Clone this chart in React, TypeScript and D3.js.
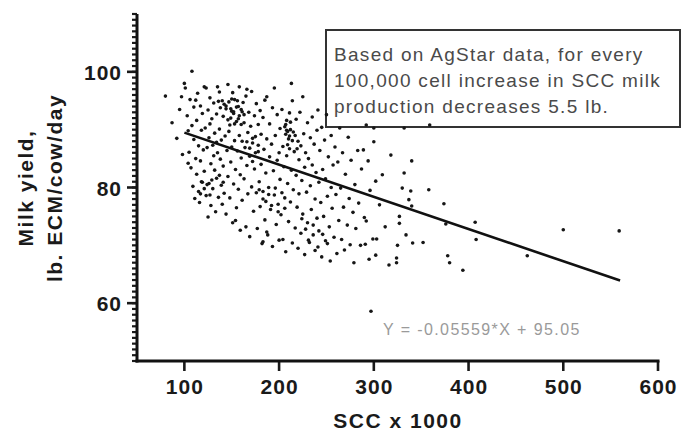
import React, { useRef, useEffect } from 'react';
import { select, scaleLinear, axisLeft, axisBottom, range, line } from 'd3';

// [SCC x 1000, milk yield lb ECM/cow/day]
const sccUnder120 = [
  [80, 95.8], [87, 91.2], [92, 88.5], [95, 93.5], [97, 95.7], [98, 85.7],
  [100, 98.0], [101, 97.2], [103, 92.4], [104, 89.8], [105, 86.1], [106, 95.2],
  [107, 83.4], [108, 100.1], [108, 90.7], [109, 80.2], [110, 88.3], [110, 93.9],
  [111, 78.1], [112, 85.0], [113, 91.6], [113, 82.3], [114, 96.3], [115, 87.2],
  [116, 77.4], [117, 94.1], [117, 84.6], [118, 89.9], [119, 80.9], [119, 92.8],
  [120, 86.5], [104, 84.2], [112, 95.1], [115, 79.3]
];

const scc120to160 = [
  [121, 97.4], [121, 82.8], [122, 90.3], [123, 97.2], [123, 78.6], [124, 86.9],
  [125, 93.4], [126, 80.7], [126, 88.6], [127, 95.5], [128, 84.1], [128, 76.9],
  [129, 91.9], [130, 79.8], [130, 87.3], [131, 94.6], [132, 83.0], [132, 89.4],
  [133, 75.8], [134, 92.7], [134, 81.6], [135, 97.4], [135, 86.0], [136, 78.3],
  [137, 96.5], [137, 90.1], [138, 84.9], [138, 93.8], [139, 80.4], [139, 88.2],
  [140, 95.0], [140, 77.1], [125, 74.9], [131, 85.5], [127, 91.0],
  [141, 92.3], [141, 83.7], [142, 94.4], [142, 79.0], [143, 88.9], [144, 93.6],
  [144, 75.4], [145, 86.4], [146, 97.8], [146, 81.9], [147, 94.8], [147, 89.7],
  [148, 78.2], [149, 92.0], [149, 84.4], [150, 95.3], [150, 87.0], [151, 73.9],
  [152, 93.1], [152, 80.6], [153, 95.2], [153, 88.1], [154, 83.1], [155, 91.4],
  [155, 76.5], [156, 95.0], [156, 86.3], [157, 94.0], [157, 79.7], [158, 97.4],
  [158, 89.0], [159, 82.2], [159, 72.6], [160, 93.5], [160, 85.1], [148, 90.8],
  [151, 96.4], [154, 74.3], [144, 94.1], [150, 93.2], [136, 94.9]
];

const scc160to200 = [
  [161, 88.0], [161, 77.8], [162, 94.7], [163, 81.5], [163, 91.2], [164, 86.9],
  [165, 73.2], [165, 95.8], [166, 83.8], [167, 89.5], [167, 78.9], [168, 93.0],
  [169, 85.4], [169, 71.5], [170, 90.6], [171, 80.1], [171, 96.6], [172, 87.7],
  [173, 75.9], [174, 92.4], [174, 83.2], [175, 88.8], [176, 79.1], [176, 94.5],
  [177, 72.9], [178, 86.2], [178, 90.9], [179, 81.0], [180, 76.7], [180, 93.3],
  [166, 97.0], [172, 84.5],
  [181, 89.2], [181, 84.0], [182, 70.3], [183, 92.1], [183, 78.0], [184, 86.6],
  [185, 95.1], [185, 74.4], [186, 82.5], [187, 95.7], [187, 88.4], [188, 71.8],
  [189, 80.0], [190, 91.0], [190, 85.3], [191, 76.2], [192, 87.5], [193, 69.8],
  [193, 93.8], [194, 82.9], [195, 97.2], [195, 78.7], [196, 89.0], [197, 73.6],
  [198, 84.7], [198, 92.6], [199, 77.1], [200, 86.0], [200, 70.9],
  [183, 70.6], [187, 72.3], [179, 79.6]
];

const scc200to240 = [
  [201, 90.2], [201, 81.4], [202, 75.3], [203, 93.5], [204, 87.1], [204, 71.0],
  [205, 83.6], [206, 90.5], [206, 78.2], [207, 89.2], [207, 68.9], [208, 91.6],
  [208, 85.5], [209, 80.7], [210, 88.4], [210, 74.1], [211, 92.9], [211, 86.7],
  [212, 90.0], [212, 77.5], [213, 98.0], [213, 83.0], [214, 70.4], [215, 89.6],
  [215, 79.6], [216, 86.2], [217, 73.0], [218, 91.8], [218, 82.1], [219, 76.6],
  [220, 88.0], [220, 69.5], [209, 87.4], [214, 95.0], [208, 89.9], [211, 88.9],
  [221, 84.8], [221, 78.9], [222, 93.0], [223, 72.1], [223, 87.2], [224, 81.2],
  [225, 95.7], [225, 75.4], [226, 89.3], [227, 83.5], [227, 68.4], [228, 86.0],
  [229, 79.2], [230, 91.2], [230, 73.9], [231, 85.0], [232, 70.5], [233, 88.6],
  [233, 80.3], [234, 76.2], [235, 92.2], [235, 83.9], [236, 71.8], [237, 87.5],
  [238, 78.0], [238, 69.1], [239, 82.6], [240, 89.9], [240, 74.7]
];

const scc240to300 = [
  [241, 93.4], [242, 80.9], [242, 72.5], [243, 86.4], [244, 77.4], [245, 90.4],
  [245, 68.0], [246, 83.1], [247, 75.0], [248, 88.2], [249, 70.8], [249, 81.5],
  [250, 92.6], [251, 78.5], [252, 85.3], [253, 73.2], [254, 67.3], [255, 89.0],
  [255, 80.0], [256, 76.4], [257, 83.9], [258, 71.4], [259, 87.0], [260, 78.8],
  [261, 68.6], [262, 84.4], [263, 74.3], [264, 90.3], [265, 79.9], [266, 71.0],
  [267, 86.0], [268, 76.6], [269, 69.2], [270, 82.3], [272, 73.5], [273, 88.7],
  [274, 78.1], [275, 70.1], [276, 84.7], [278, 75.7], [279, 67.0], [280, 80.5],
  [281, 72.9], [283, 86.4], [284, 77.3], [286, 70.0], [287, 83.2], [289, 86.5],
  [290, 74.8], [291, 70.2], [292, 90.8], [292, 74.2], [294, 84.6], [295, 67.6],
  [296, 79.5], [297, 58.6], [299, 71.1], [300, 90.3], [300, 87.9]
];

const sccOver300 = [
  [302, 81.1], [302, 68.3], [303, 71.1], [306, 77.0], [309, 82.2], [312, 73.2],
  [316, 66.6], [318, 85.6], [324, 67.8], [324, 67.0], [325, 70.0], [327, 75.0],
  [327, 73.8], [330, 79.9], [332, 90.3], [332, 82.5], [334, 71.8], [337, 77.9],
  [339, 79.4], [340, 84.6], [340, 76.8], [341, 70.4], [352, 70.5], [358, 79.6],
  [359, 90.8], [374, 77.2], [376, 73.7], [378, 68.2], [380, 67.0], [394, 65.7],
  [407, 74.0], [408, 71.0], [462, 68.2], [500, 72.7], [559, 72.5]
];

// the darker clumps inside the main cloud
const denseClumps = [
  [149, 93.6], [152, 92.8], [155, 93.9], [158, 92.4], [161, 93.1], [153, 91.0],
  [146, 91.7], [157, 91.9], [160, 90.9], [163, 92.6],
  [118, 81.0], [121, 79.8], [124, 80.5], [127, 78.7], [129, 81.3], [117, 78.9],
  [166, 87.9], [169, 86.8], [172, 88.5], [175, 86.0], [178, 87.3],
  [207, 90.9], [209, 89.7], [212, 91.3], [214, 88.1], [217, 89.0], [219, 86.7],
  [183, 79.3], [186, 77.6], [189, 78.8], [192, 76.9], [196, 79.9], [199, 75.8],
  [224, 74.6], [228, 72.8], [231, 70.9], [236, 73.5], [241, 69.7], [246, 71.9],
  [251, 70.3], [203, 79.1], [206, 76.4], [137, 82.1], [141, 80.9], [134, 87.8]
];

// fitted line Y = -0.05559*X + 95.05 over the SCC span of the fit
const fitSlope = -0.05559;
const fitIntercept = 95.05;
const fitSpan = [100, 560];

const xTicks = [100, 200, 300, 400, 500, 600];
const yTicks = [60, 80, 100];
const yMinorTicks = range(50, 111, 1);

const noteLines = [
  'Based on AgStar data, for every',
  '100,000 cell increase in SCC milk',
  'production decreases 5.5 lb.'
];
const equationLabel = 'Y = -0.05559*X + 95.05';

const FONT = 'Arial, "Liberation Sans", Helvetica, sans-serif';

const App = () => {
  const svgRef = useRef(null);

  useEffect(() => {
    const svg = select(svgRef.current);
    svg.selectAll('*').remove();

    const xScale = scaleLinear().domain([50, 600]).range([137, 658]);
    const yScale = scaleLinear().domain([50, 110]).range([361, 14]);
    const axisX = xScale(50);
    const axisY = yScale(50);

    const allPoints = [
      ...sccUnder120,
      ...scc120to160,
      ...scc160to200,
      ...scc200to240,
      ...scc240to300,
      ...sccOver300,
      ...denseClumps
    ];

    // note box (points sit on top of its lower edge)
    const note = svg.append('g');
    note
      .append('rect')
      .attr('x', 326)
      .attr('y', 30)
      .attr('width', 354)
      .attr('height', 97)
      .attr('fill', 'white')
      .attr('stroke', '#333')
      .attr('stroke-width', 2);
    note
      .selectAll('text')
      .data(noteLines)
      .join('text')
      .attr('x', 334)
      .attr('y', (d, i) => 61 + i * 26)
      .attr('font-family', FONT)
      .attr('font-size', 19)
      .attr('letter-spacing', 1.3)
      .attr('fill', '#4a4a4a')
      .text(d => d);

    svg
      .append('text')
      .attr('x', 383)
      .attr('y', 335)
      .attr('font-family', FONT)
      .attr('font-size', 16)
      .attr('letter-spacing', 1.4)
      .attr('fill', '#9a9a9a')
      .text(equationLabel);

    // scatter
    svg
      .append('g')
      .selectAll('circle')
      .data(allPoints)
      .join('circle')
      .attr('cx', d => xScale(d[0]))
      .attr('cy', d => yScale(d[1]))
      .attr('r', 1.8)
      .attr('fill', '#161616');

    // regression line
    const fit = fitSpan.map(x => [x, fitSlope * x + fitIntercept]);
    svg
      .append('path')
      .datum(fit)
      .attr('fill', 'none')
      .attr('stroke', '#111')
      .attr('stroke-width', 2.6)
      .attr(
        'd',
        line()
          .x(d => xScale(d[0]))
          .y(d => yScale(d[1]))
      );

    // tick marks drawn as plain lines
    const ticks = svg.append('g').attr('stroke', '#1a1a1a');
    ticks
      .selectAll('.y-minor')
      .data(yMinorTicks)
      .join('line')
      .attr('class', 'y-minor')
      .attr('x1', axisX - 5)
      .attr('x2', axisX)
      .attr('y1', d => yScale(d))
      .attr('y2', d => yScale(d))
      .attr('stroke-width', 2.2);
    ticks
      .selectAll('.y-major')
      .data(yTicks)
      .join('line')
      .attr('class', 'y-major')
      .attr('x1', axisX - 10)
      .attr('x2', axisX)
      .attr('y1', d => yScale(d))
      .attr('y2', d => yScale(d))
      .attr('stroke-width', 2.6);
    ticks
      .selectAll('.x-major')
      .data(xTicks)
      .join('line')
      .attr('class', 'x-major')
      .attr('x1', d => xScale(d))
      .attr('x2', d => xScale(d))
      .attr('y1', axisY)
      .attr('y2', axisY + 10)
      .attr('stroke-width', 2.6);

    // axis lines + labels
    const yAxisG = svg
      .append('g')
      .attr('transform', `translate(${axisX},0)`)
      .call(axisLeft(yScale).tickValues(yTicks).tickSize(0).tickPadding(15));
    yAxisG
      .select('.domain')
      .attr('stroke-width', 3)
      .attr('stroke', '#111')
      .attr('d', `M0,${yScale(110)}V${axisY + 1.5}`);
    yAxisG
      .selectAll('.tick text')
      .attr('font-family', FONT)
      .attr('font-size', 21)
      .attr('font-weight', 'bold')
      .attr('letter-spacing', 1)
      .attr('fill', '#1a1a1a')
      .attr('dy', '0.36em');

    const xAxisG = svg
      .append('g')
      .attr('transform', `translate(0,${axisY})`)
      .call(axisBottom(xScale).tickValues(xTicks).tickSize(0).tickPadding(18));
    xAxisG
      .select('.domain')
      .attr('stroke-width', 3)
      .attr('stroke', '#111')
      .attr('d', `M${axisX - 1.5},0H${xScale(600) + 1.5}`);
    xAxisG
      .selectAll('.tick text')
      .attr('font-family', FONT)
      .attr('font-size', 21)
      .attr('font-weight', 'bold')
      .attr('letter-spacing', 1)
      .attr('fill', '#1a1a1a');

    // axis titles
    svg
      .append('text')
      .attr('x', 398)
      .attr('y', 428)
      .attr('text-anchor', 'middle')
      .attr('font-family', FONT)
      .attr('font-size', 21)
      .attr('font-weight', 'bold')
      .attr('letter-spacing', 1.5)
      .attr('fill', '#1a1a1a')
      .text('SCC x 1000');

    const yTitle = svg
      .append('text')
      .attr('transform', 'translate(0,188) rotate(-90)')
      .attr('text-anchor', 'middle')
      .attr('font-family', FONT)
      .attr('font-size', 21)
      .attr('font-weight', 'bold')
      .attr('letter-spacing', 1.5)
      .attr('fill', '#1a1a1a');
    yTitle.append('tspan').attr('x', 0).attr('y', 33).text('Milk yield,');
    yTitle.append('tspan').attr('x', 0).attr('y', 62).text('lb. ECM/cow/day');
  }, []);

  return (
    <svg
      ref={svgRef}
      width={690}
      height={434}
      style={{ position: 'absolute', left: 0, top: 0, background: 'white' }}
    />
  );
};

export default App;
